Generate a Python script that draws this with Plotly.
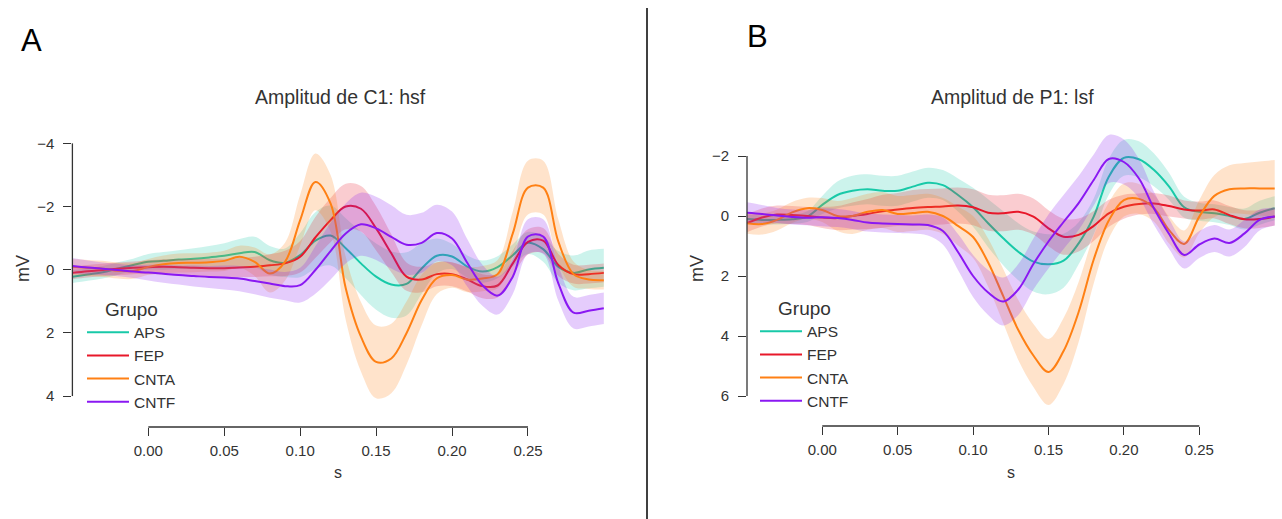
import plotly.graph_objects as go

W, H = 1282, 519

# ---------------- data ----------------
time_s = [-0.05, -0.04, -0.03, -0.02, -0.01, 0.00, 0.01, 0.02, 0.03, 0.04, 0.05, 0.06,
          0.07, 0.08, 0.09, 0.10, 0.11, 0.12, 0.13, 0.14, 0.15, 0.16, 0.17, 0.18,
          0.19, 0.20, 0.21, 0.22, 0.23, 0.24, 0.25, 0.26, 0.27, 0.28, 0.29, 0.30]

groups = ["APS", "FEP", "CNTA", "CNTF"]

# Panel A: Amplitud de C1: hsf  (mean, mV)
A_APS = [0.22, 0.15, 0.08, -0.04, -0.15, -0.25, -0.28, -0.32, -0.35, -0.39, -0.44, -0.52,
         -0.56, -0.30, -0.22, -0.46, -0.92, -1.08, -0.68, -0.20, 0.22, 0.47, 0.45, -0.04,
         -0.44, -0.42, -0.10, 0.06, -0.08, -0.46, -0.85, -0.65, -0.09, 0.10, -0.01, -0.06]
A_FEP = [0.10, 0.05, 0.01, -0.03, -0.06, -0.08, -0.09, -0.08, -0.06, -0.05, -0.05, -0.07,
         -0.09, -0.14, -0.20, -0.41, -1.02, -1.57, -2.00, -1.93, -1.31, -0.52, 0.22, 0.31,
         0.14, 0.14, 0.31, 0.52, 0.50, -0.20, -0.88, -0.92, -0.15, 0.14, 0.14, 0.10]
A_CNTA = [-0.09, -0.06, -0.03, 0.03, 0.04, -0.09, -0.17, -0.21, -0.22, -0.24, -0.28, -0.41,
          -0.25, 0.12, -0.25, -1.57, -2.78, -2.10, 0.59, 2.12, 2.92, 2.81, 2.01, 0.96,
          0.27, 0.17, 0.31, 0.28, 0.14, -1.15, -2.60, -2.60, -0.89, 0.14, 0.31, 0.33]
A_CNTF = [-0.12, -0.07, -0.03, 0.01, 0.06, 0.09, 0.13, 0.17, 0.20, 0.23, 0.25, 0.28,
          0.36, 0.44, 0.52, 0.49, 0.01, -0.59, -1.15, -1.44, -1.31, -1.04, -0.79, -0.85,
          -1.16, -0.99, -0.22, 0.49, 0.82, 0.22, -1.05, -1.05, 0.43, 1.36, 1.30, 1.22]

# Panel A: half-width of the shaded band (mV)
A_APS_err = [0.2, 0.2, 0.2, 0.2, 0.2, 0.25, 0.28, 0.3, 0.33, 0.36, 0.4, 0.45,
             0.48, 0.45, 0.45, 0.7, 0.9, 0.95, 0.95, 1.0, 1.05, 1.05, 1.0, 0.8,
             0.55, 0.4, 0.35, 0.35, 0.35, 0.35, 0.35, 0.4, 0.5, 0.55, 0.6, 0.6]
A_FEP_err = [0.2, 0.2, 0.2, 0.2, 0.2, 0.22, 0.24, 0.26, 0.28, 0.3, 0.3, 0.3,
             0.32, 0.35, 0.4, 0.5, 0.65, 0.7, 0.72, 0.72, 0.7, 0.6, 0.45, 0.4,
             0.38, 0.38, 0.38, 0.38, 0.38, 0.4, 0.4, 0.4, 0.35, 0.3, 0.3, 0.3]
A_CNTA_err = [0.25, 0.25, 0.25, 0.25, 0.25, 0.25, 0.28, 0.3, 0.3, 0.3, 0.32, 0.35,
              0.45, 0.6, 0.6, 0.8, 0.9, 0.9, 1.0, 1.1, 1.15, 1.1, 1.0, 0.8,
              0.5, 0.4, 0.4, 0.4, 0.45, 0.7, 0.85, 0.85, 0.7, 0.4, 0.3, 0.3]
A_CNTF_err = [0.25, 0.22, 0.2, 0.2, 0.2, 0.25, 0.28, 0.3, 0.33, 0.35, 0.38, 0.4,
              0.42, 0.45, 0.45, 0.55, 0.75, 0.9, 0.95, 1.0, 1.0, 1.0, 0.95, 0.95,
              0.9, 0.85, 0.75, 0.65, 0.6, 0.55, 0.55, 0.55, 0.55, 0.5, 0.5, 0.5]

# Panel B: Amplitud de P1: lsf  (mean, mV)
B_APS = [0.10, 0.13, 0.13, 0.11, 0.02, -0.37, -0.70, -0.84, -0.89, -0.84, -0.84, -0.98,
         -1.11, -1.03, -0.70, -0.29, 0.24, 0.74, 1.19, 1.52, 1.61, 1.49, 0.91, 0.02,
         -1.31, -1.94, -1.89, -1.53, -0.98, -0.29, -0.14, -0.09, 0.00, 0.10, -0.11, -0.26]
B_FEP = [0.24, 0.05, -0.05, -0.03, 0.00, 0.05, 0.07, 0.00, -0.07, -0.16, -0.22, -0.27,
         -0.30, -0.32, -0.35, -0.29, -0.11, -0.09, -0.14, 0.02, 0.41, 0.69, 0.63, 0.33,
         -0.09, -0.31, -0.40, -0.42, -0.33, -0.22, -0.18, -0.22, -0.03, 0.11, 0.10, 0.02]
B_CNTA = [0.24, 0.27, 0.13, -0.12, -0.26, -0.20, 0.00, 0.00, -0.14, -0.20, -0.07, -0.10,
          -0.14, 0.00, 0.33, 0.70, 1.55, 2.67, 3.80, 4.65, 5.20, 4.50, 3.20, 1.45,
          0.15, -0.53, -0.57, -0.26, 0.47, 0.93, 0.02, -0.67, -0.89, -0.92, -0.92, -0.92]
B_CNTF = [-0.11, -0.07, -0.02, 0.03, 0.06, 0.04, 0.07, 0.13, 0.22, 0.25, 0.27, 0.28,
          0.30, 0.50, 1.20, 2.00, 2.55, 2.85, 2.45, 1.60, 0.85, 0.20, -0.43, -1.20,
          -1.90, -1.80, -1.25, -0.25, 0.60, 1.30, 0.95, 0.75, 0.90, 0.58, 0.13, 0.02]

B_APS_err = [0.15, 0.15, 0.15, 0.15, 0.18, 0.3, 0.45, 0.5, 0.5, 0.5, 0.5, 0.5,
             0.5, 0.5, 0.55, 0.65, 0.8, 0.9, 0.95, 1.0, 1.0, 0.9, 0.7, 0.6,
             0.6, 0.6, 0.6, 0.55, 0.45, 0.35, 0.3, 0.3, 0.3, 0.35, 0.4, 0.4]
B_FEP_err = [0.3, 0.3, 0.3, 0.3, 0.3, 0.35, 0.4, 0.45, 0.5, 0.55, 0.55, 0.6,
             0.6, 0.6, 0.6, 0.6, 0.6, 0.6, 0.6, 0.6, 0.6, 0.6, 0.55, 0.5,
             0.45, 0.4, 0.35, 0.35, 0.35, 0.3, 0.3, 0.3, 0.3, 0.3, 0.3, 0.3]
B_CNTA_err = [0.35, 0.35, 0.35, 0.35, 0.35, 0.4, 0.5, 0.6, 0.6, 0.6, 0.6, 0.6,
              0.6, 0.6, 0.65, 0.7, 0.8, 0.9, 1.0, 1.05, 1.1, 1.1, 1.0, 0.8,
              0.6, 0.55, 0.5, 0.45, 0.45, 0.45, 0.55, 0.7, 0.8, 0.85, 0.9, 0.95]
B_CNTF_err = [0.35, 0.3, 0.25, 0.25, 0.25, 0.3, 0.3, 0.3, 0.3, 0.3, 0.3, 0.3,
              0.35, 0.45, 0.6, 0.7, 0.75, 0.8, 0.85, 0.85, 0.9, 0.9, 0.9, 0.85,
              0.8, 0.75, 0.65, 0.55, 0.5, 0.45, 0.45, 0.45, 0.45, 0.45, 0.35, 0.3]

x_ticks = [0.00, 0.05, 0.10, 0.15, 0.20, 0.25]
A_y_ticks = [-4, -2, 0, 2, 4]
B_y_ticks = [-2, 0, 2, 4, 6]
titles = ["Amplitud de C1: hsf", "Amplitud de P1: lsf"]
panel_letters = ["A", "B"]

# ---------------- styling ----------------
colors = {"APS": (24, 201, 168), "FEP": (232, 24, 42), "CNTA": (255, 128, 20), "CNTF": (138, 24, 242)}
FONT = "Liberation Sans, Arial, Helvetica, sans-serif"
TXT = "#333333"

fig = go.Figure()

panels = [
    dict(mean={"APS": A_APS, "FEP": A_FEP, "CNTA": A_CNTA, "CNTF": A_CNTF},
         err={"APS": A_APS_err, "FEP": A_FEP_err, "CNTA": A_CNTA_err, "CNTF": A_CNTF_err},
         xa="x", ya="y", leg="legend"),
    dict(mean={"APS": B_APS, "FEP": B_FEP, "CNTA": B_CNTA, "CNTF": B_CNTF},
         err={"APS": B_APS_err, "FEP": B_FEP_err, "CNTA": B_CNTA_err, "CNTF": B_CNTF_err},
         xa="x2", ya="y2", leg="legend2"),
]

for p in panels:
    for g in groups:
        r, gg, b = colors[g]
        m = p["mean"][g]
        e = p["err"][g]
        upper = [mi - ei for mi, ei in zip(m, e)]
        lower = [mi + ei for mi, ei in zip(m, e)]
        fig.add_trace(go.Scatter(x=time_s, y=upper, mode="lines",
                                 line=dict(width=0, shape="spline", color=f"rgba({r},{gg},{b},0)"),
                                 showlegend=False, hoverinfo="skip", xaxis=p["xa"], yaxis=p["ya"]))
        fig.add_trace(go.Scatter(x=time_s, y=lower, mode="lines", fill="tonexty",
                                 fillcolor=f"rgba({r},{gg},{b},0.22)",
                                 line=dict(width=0, shape="spline", color=f"rgba({r},{gg},{b},0)"),
                                 showlegend=False, hoverinfo="skip", xaxis=p["xa"], yaxis=p["ya"]))
        fig.add_trace(go.Scatter(x=time_s, y=m, mode="lines", name=g,
                                 line=dict(width=2, shape="spline", color=f"rgb({r},{gg},{b})"),
                                 legend=p["leg"], xaxis=p["xa"], yaxis=p["ya"]))

axis_common = dict(showgrid=False, zeroline=False, showline=False, ticks="outside",
                   tickcolor="#333333", tickwidth=1.2, tickfont=dict(size=15, color=TXT, family=FONT))

legend_common = dict(xanchor="left", yanchor="top",
                     title=dict(text="Grupo", font=dict(size=19, color=TXT), side="top center"),
                     font=dict(size=15.5, color=TXT), bgcolor="rgba(0,0,0,0)",
                     traceorder="normal", itemwidth=42)

fig.update_layout(
    width=W, height=H,
    margin=dict(l=0, r=0, t=0, b=0),
    paper_bgcolor="white", plot_bgcolor="white",
    font=dict(family=FONT, color=TXT),
    xaxis=dict(domain=[72.4 / W, 603.9 / W], range=[-0.05, 0.30], tickvals=x_ticks,
               tickformat=".2f", ticklen=8, anchor="y", ticklabelstandoff=2, **axis_common),
    yaxis=dict(domain=[(H - 427) / H, (H - 120) / H], range=[4.98, -4.74], tickvals=A_y_ticks,
               ticklen=8, anchor="x", ticklabelstandoff=6, **axis_common),
    xaxis2=dict(domain=[747 / W, 1275 / W], range=[-0.0499, 0.3002], tickvals=x_ticks,
                tickformat=".2f", ticklen=8, anchor="y2", ticklabelstandoff=2, **axis_common),
    yaxis2=dict(domain=[(H - 426) / H, (H - 120) / H], range=[7.0, -3.2], tickvals=B_y_ticks,
                ticklen=8, anchor="x2", ticklabelstandoff=6, **axis_common),
    legend=dict(x=82 / W, y=1 - 291 / H, **legend_common),
    legend2=dict(x=755 / W, y=1 - 290 / H, **legend_common),
)

spine = dict(color="#333333", width=1.3)
shapes = [
    dict(type="line", xref="x domain", yref="y", x0=0, x1=0, y0=A_y_ticks[0], y1=A_y_ticks[-1], line=spine),
    dict(type="line", xref="x", yref="y domain", x0=x_ticks[0], x1=x_ticks[-1], y0=0, y1=0, line=spine),
    dict(type="line", xref="x2 domain", yref="y2", x0=0, x1=0, y0=B_y_ticks[0], y1=B_y_ticks[-1], line=spine),
    dict(type="line", xref="x2", yref="y2 domain", x0=x_ticks[0], x1=x_ticks[-1], y0=0, y1=0, line=spine),
    dict(type="line", xref="paper", yref="paper", x0=647 / W, x1=647 / W, y0=0, y1=1 - 8 / H,
         line=dict(color="black", width=1.5)),
]
fig.update_layout(shapes=shapes)

def ann(text, x, y, size, color=TXT, angle=0):
    return dict(text=text, x=x / W, y=1 - y / H, xref="paper", yref="paper", showarrow=False,
                xanchor="center", yanchor="middle", textangle=angle,
                font=dict(size=size, color=color, family=FONT))

annotations = [
    ann(panel_letters[0], 31.7, 40, 31, "black"),
    ann(panel_letters[1], 757.3, 36.5, 31, "black"),
    ann(titles[0], 340.5, 97, 19.5),
    ann(titles[1], 1012.8, 97, 19.5),
    ann("mV", 23, 269, 18, angle=-90),
    ann("mV", 697, 269, 18, angle=-90),
    ann("s", 338, 472, 16),
    ann("s", 1011, 472, 16),
]
fig.update_layout(annotations=annotations)

fig.write_html("out.html")
